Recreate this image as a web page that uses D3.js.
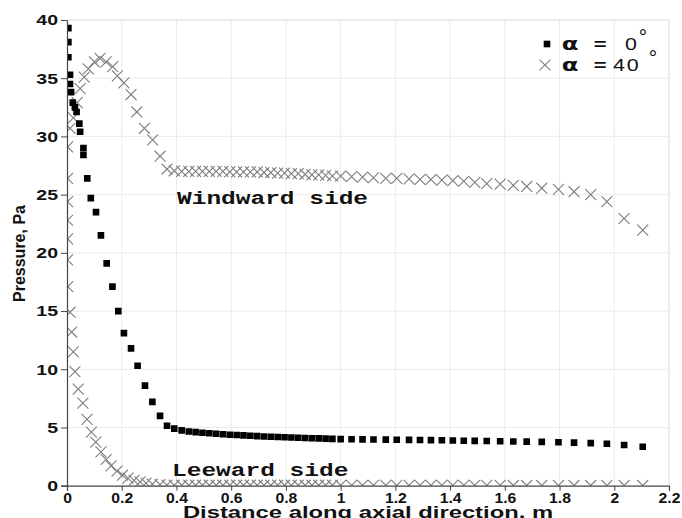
<!DOCTYPE html>
<html>
<head>
<meta charset="utf-8">
<script src="https://cdn.jsdelivr.net/npm/d3@7/dist/d3.min.js"></script>
<style>
  html, body { margin: 0; padding: 0; background: #fff; }
  svg { display: block; }
  .tick-label { font-family: "Liberation Sans", Arial, sans-serif; font-weight: bold; font-size: 15px; fill: #111; }
  .mono { font-family: "Liberation Mono", "Courier New", monospace; font-weight: bold; fill: #111; }
</style>
</head>
<body>
<div id="chart"></div>
<script>
// Axis ticks
const xTicks = [0, 0.2, 0.4, 0.6, 0.8, 1, 1.2, 1.4, 1.6, 1.8, 2, 2.2];
const yTicks = [0, 5, 10, 15, 20, 25, 30, 35, 40];

// Surface pressure [distance (m), pressure (Pa)] at zero incidence
const alpha0 = [
  [0.005,39.3],[0.005,38.1],[0.005,36.8],[0.011,35.3],[0.011,34.5],[0.015,33.8],[0.021,32.9],
  [0.029,32.5],[0.035,32.1],[0.045,31.1],[0.048,30.4],[0.06,29.0],[0.06,28.4],[0.074,26.4],
  [0.087,24.7],[0.106,23.5],[0.124,21.5],[0.145,19.1],[0.166,17.1],[0.1875,15.0],[0.208,13.1],
  [0.234,11.8],[0.258,10.3],[0.285,8.6],[0.312,7.2],[0.34,6.0],[0.3655,5.15],[0.392,4.9],
  [0.419,4.75],[0.445,4.66],[0.47,4.6],[0.495,4.55],[0.52,4.5],[0.545,4.46],[0.57,4.42],
  [0.595,4.38],[0.62,4.35],[0.645,4.32],[0.67,4.29],[0.695,4.26],[0.72,4.23],[0.745,4.2],
  [0.77,4.18],[0.795,4.16],[0.82,4.14],[0.845,4.12],[0.87,4.1],[0.895,4.08],[0.92,4.06],
  [0.945,4.04],[0.97,4.02],[1.0,4.0],[1.04,3.99],[1.08,3.98],[1.12,3.97],[1.165,3.96],
  [1.205,3.95],[1.25,3.94],[1.29,3.93],[1.33,3.92],[1.37,3.9],[1.41,3.88],[1.45,3.86],
  [1.49,3.85],[1.534,3.84],[1.583,3.82],[1.631,3.8],[1.68,3.78],[1.735,3.76],[1.796,3.73],
  [1.853,3.7],[1.914,3.66],[1.973,3.6],[2.036,3.5],[2.104,3.35]
];

// 40 deg incidence, windward side
const windward40 = [
  [0.011,30.7],[0.023,31.6],[0.037,32.9],[0.048,34.1],[0.063,35.1],[0.078,35.8],[0.1,36.4],
  [0.121,36.7],[0.143,36.4],[0.167,36.0],[0.184,35.2],[0.208,34.6],[0.234,33.6],[0.255,32.1],
  [0.283,30.7],[0.313,29.7],[0.34,28.3],[0.3655,27.2],[0.392,27.05],[0.419,27.0],[0.445,27.0],
  [0.47,27.0],[0.495,27.0],[0.52,27.0],[0.545,27.0],[0.57,27.0],[0.595,26.95],[0.62,26.95],
  [0.645,26.95],[0.67,26.95],[0.695,26.95],[0.72,26.9],[0.745,26.9],[0.77,26.85],[0.795,26.85],
  [0.82,26.8],[0.845,26.8],[0.87,26.75],[0.895,26.7],[0.92,26.7],[0.945,26.65],[0.97,26.6],
  [1.0,26.6],[1.04,26.55],[1.08,26.5],[1.12,26.45],[1.165,26.4],[1.205,26.4],[1.25,26.35],
  [1.29,26.3],[1.33,26.3],[1.37,26.25],[1.41,26.2],[1.45,26.15],[1.49,26.05],[1.534,25.95],
  [1.583,25.9],[1.631,25.8],[1.68,25.7],[1.735,25.55],[1.796,25.45],[1.853,25.25],[1.914,25.0],
  [1.973,24.4],[2.036,22.95],[2.104,21.95]
];

// 40 deg incidence, leeward side
const leeward40 = [
  [0.002,29.1],[0.002,26.4],[0.002,24.4],[0.002,22.8],[0.002,21.2],[0.002,19.4],[0.003,17.1],
  [0.011,14.9],[0.017,13.2],[0.023,11.5],[0.029,9.8],[0.041,8.3],[0.058,7.1],[0.073,5.7],
  [0.089,4.6],[0.105,3.75],[0.124,2.9],[0.143,2.25],[0.161,1.7],[0.183,1.25],[0.203,0.9],
  [0.223,0.65],[0.245,0.45],[0.267,0.33],[0.289,0.22],[0.312,0.14],[0.34,0.09],[0.3655,0.06],
  [0.392,0.04],[0.419,0.04],[0.445,0.04],[0.47,0.04],[0.495,0.04],[0.52,0.04],[0.545,0.04],
  [0.57,0.04],[0.595,0.04],[0.62,0.04],[0.645,0.04],[0.67,0.04],[0.695,0.04],[0.72,0.04],
  [0.745,0.04],[0.77,0.04],[0.795,0.04],[0.82,0.04],[0.845,0.04],[0.87,0.04],[0.895,0.04],
  [0.92,0.04],[0.945,0.04],[0.97,0.04],[1.0,0.03],[1.04,0.03],[1.08,0.03],[1.12,0.03],
  [1.165,0.03],[1.205,0.03],[1.25,0.03],[1.29,0.03],[1.33,0.03],[1.37,0.03],[1.41,0.03],
  [1.45,0.03],[1.49,0.03],[1.534,0.03],[1.583,0.03],[1.631,0.02],[1.68,0.02],[1.735,0.02],
  [1.796,0.02],[1.853,0.02],[1.914,0.02],[1.973,0.02],[2.036,0.02],[2.104,0.02]
];

const legendItems = [
  { symbol: "square", value: "0" },
  { symbol: "times", value: "40" }
];

const W = 682, H = 518;
const margin = { left: 67, right: 13, top: 20, bottom: 32.3 };
const innerW = W - margin.left - margin.right;
const innerH = H - margin.top - margin.bottom;

const x = d3.scaleLinear().domain([0, 2.2]).range([margin.left, margin.left + innerW]);
const y = d3.scaleLinear().domain([0, 40]).range([margin.top + innerH, margin.top]);

const svg = d3.select("#chart").append("svg")
  .attr("width", W).attr("height", H)
  .attr("viewBox", `0 0 ${W} ${H}`);

svg.append("rect").attr("width", W).attr("height", H).attr("fill", "#fff");

// plot frame clip
svg.append("clipPath").attr("id", "plot-clip")
  .append("rect")
  .attr("x", x(0)).attr("y", y(40))
  .attr("width", x(2.2) - x(0)).attr("height", y(0) - y(40));

// grid
const grid = svg.append("g").attr("stroke", "#ebebeb").attr("stroke-width", 1);
grid.selectAll(".gx").data(xTicks.slice(1)).join("line")
  .attr("x1", d => x(d)).attr("x2", d => x(d))
  .attr("y1", y(0)).attr("y2", y(40));
grid.selectAll(".gy").data(yTicks.slice(1)).join("line")
  .attr("x1", x(0)).attr("x2", x(2.2))
  .attr("y1", d => y(d)).attr("y2", d => y(d));

// markers
const squareSym = d3.symbol().type(d3.symbolSquare).size(44);
const timesSym = d3.symbol().type(d3.symbolTimes).size(80);

const marks = svg.append("g").attr("clip-path", "url(#plot-clip)");

const crossG = marks.append("g")
  .attr("fill", "none").attr("stroke", "#7d7d7d").attr("stroke-width", 1.1);
crossG.selectAll(".ww").data(windward40).join("path")
  .attr("d", timesSym)
  .attr("transform", d => `translate(${x(d[0])},${y(d[1])})`);
crossG.selectAll(".lw").data(leeward40).join("path")
  .attr("d", timesSym)
  .attr("transform", d => `translate(${x(d[0])},${y(d[1])})`);

marks.append("g").attr("fill", "#000")
  .selectAll("path").data(alpha0).join("path")
  .attr("d", squareSym)
  .attr("transform", d => `translate(${x(d[0])},${y(d[1])})`);

// axes
const fmt = d => String(+d.toFixed(1));
const xAxis = svg.append("g")
  .attr("transform", `translate(0,${y(0)})`)
  .call(d3.axisBottom(x).tickValues(xTicks).tickFormat(fmt).tickSize(5).tickPadding(2));
const yAxis = svg.append("g")
  .attr("transform", `translate(${x(0)},0)`)
  .call(d3.axisLeft(y).tickValues(yTicks).tickSize(6).tickPadding(3));

[xAxis, yAxis].forEach(g => {
  g.select(".domain").attr("stroke", "#444").attr("stroke-width", 1.2);
  g.selectAll(".tick line").attr("stroke", "#444");
  g.selectAll("text").attr("class", "tick-label").attr("font-family", null).attr("font-size", null);
});
xAxis.selectAll("text").attr("x", 0).attr("transform", "scale(1.05,1)");
yAxis.selectAll("text").attr("x", -9 / 1.3).attr("transform", "scale(1.3,1)");

// light frame on top and right
svg.append("line").attr("x1", x(0)).attr("x2", x(2.2)).attr("y1", y(40)).attr("y2", y(40))
  .attr("stroke", "#e6e6e6");
svg.append("line").attr("x1", x(2.2)).attr("x2", x(2.2)).attr("y1", y(40)).attr("y2", y(0))
  .attr("stroke", "#e6e6e6");

// titles
svg.append("text")
  .attr("transform", `translate(368,517.5) scale(1.4,1)`)
  .attr("text-anchor", "middle")
  .attr("font-family", "'Liberation Sans', Arial, sans-serif")
  .attr("font-weight", "bold").attr("font-size", 17).attr("fill", "#111")
  .text("Distance along axial direction, m");

svg.append("text")
  .attr("transform", `translate(25,253.5) rotate(-90)`)
  .attr("text-anchor", "middle")
  .attr("font-family", "'Liberation Sans', Arial, sans-serif")
  .attr("font-weight", "bold").attr("font-size", 16).attr("fill", "#111")
  .text("Pressure, Pa");

// side annotations
svg.append("text").attr("class", "mono")
  .attr("transform", `translate(177,203.5) scale(1.29,1)`)
  .attr("font-size", 19)
  .text("Windward side");
svg.append("text").attr("class", "mono")
  .attr("transform", `translate(172,475.5) scale(1.29,1)`)
  .attr("font-size", 19)
  .text("Leeward side");

// legend
const legend = svg.append("g");
const rows = [{ y: 44, base: 49.5, deg: 44 }, { y: 65, base: 71, deg: 65 }];
legendItems.forEach((item, i) => {
  const r = rows[i];
  const g = legend.append("g");
  if (item.symbol === "square") {
    g.append("path").attr("d", squareSym).attr("fill", "#000")
      .attr("transform", `translate(547,${r.y})`);
  } else {
    g.append("path").attr("d", timesSym).attr("fill", "none")
      .attr("stroke", "#7d7d7d").attr("stroke-width", 1.1)
      .attr("transform", `translate(545,${r.y})`);
  }
  g.append("text")
    .attr("transform", `translate(570,${r.base}) scale(1.35,1)`)
    .attr("text-anchor", "middle")
    .attr("font-family", "'DejaVu Sans', sans-serif").attr("font-weight", "bold")
    .attr("font-size", 18).attr("fill", "#111")
    .text("α");
  g.append("text")
    .attr("transform", `translate(600,${r.base}) scale(1.3,1)`)
    .attr("text-anchor", "middle")
    .attr("font-family", "'Liberation Mono', monospace").attr("font-weight", "bold")
    .attr("font-size", 17).attr("fill", "#111")
    .text("=");
  const single = item.value.length === 1;
  g.append("text")
    .attr("transform", `translate(${single ? 625 : 613},${r.base}) scale(1.3,1)`)
    .attr("text-anchor", "start")
    .attr("font-family", "'Liberation Sans', Arial, sans-serif")
    .attr("font-size", 16.5).attr("fill", "#111")
    .attr("letter-spacing", single ? 0 : 1.5)
    .text(item.value);
  g.append("text")
    .attr("transform", `translate(${single ? 643 : 653},${r.deg})`)
    .attr("text-anchor", "middle")
    .attr("font-family", "'Liberation Sans', Arial, sans-serif")
    .attr("font-size", 21).attr("fill", "#111")
    .text("°");
});
</script>
</body>
</html>
